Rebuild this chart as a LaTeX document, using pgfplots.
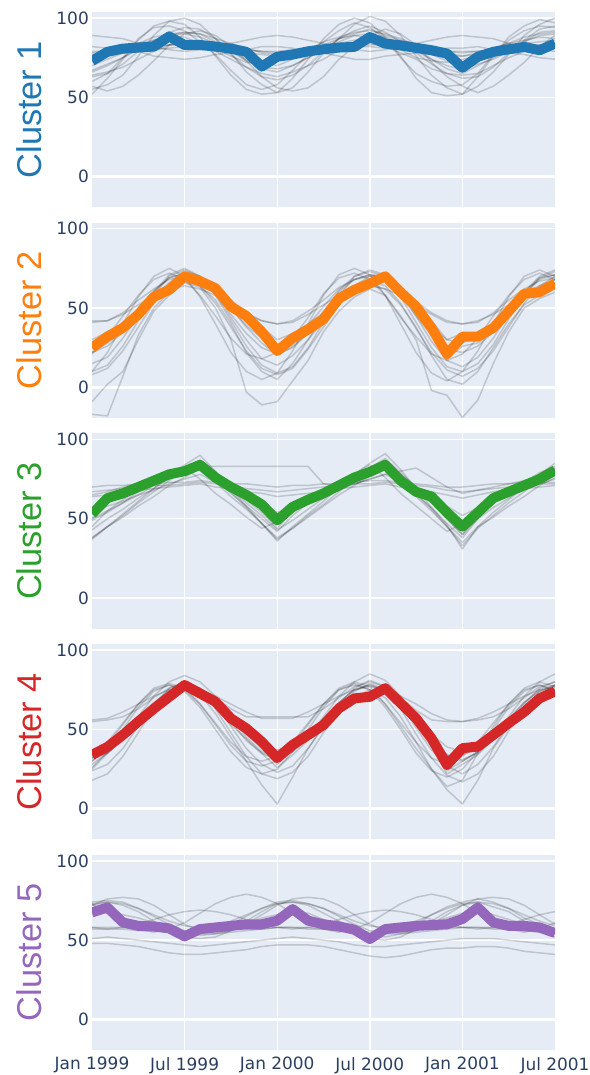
\documentclass[border=0pt]{standalone}
\usepackage{fontspec}
\usepackage{pgfplots}
\pgfplotsset{compat=1.18}
\newfontfamily\tickfont{DejaVu Sans}
\newfontfamily\titlefont{Liberation Sans}
\definecolor{bgc}{HTML}{E5ECF6}
\definecolor{tickc}{HTML}{2A3F5F}
\definecolor{c1}{HTML}{1F77B4}
\definecolor{c2}{HTML}{FF7F0E}
\definecolor{c3}{HTML}{2CA02C}
\definecolor{c4}{HTML}{D62728}
\definecolor{c5}{HTML}{9467BD}
\newcommand\gline[1]{%
  \gdef\gcoords{}%
  \foreach[count=\i from 0] \v in {#1}{\xdef\gcoords{\gcoords(\i,\v)}}%
  \edef\gtmp{\noexpand\addplot[gl] coordinates {\gcoords};}%
  \gtmp}
\newcommand\mline[2]{%
  \gdef\gcoords{}%
  \foreach[count=\i from 0] \v in {#2}{\xdef\gcoords{\gcoords(\i,\v)}}%
  \edef\gtmp{\noexpand\addplot[ml, color=#1] coordinates {\gcoords};}%
  \gtmp}
\pgfplotsset{
  panel/.style={
    width=463bp, height=195.3bp, scale only axis,
    xmin=0, xmax=30, ymin=-19.3, ymax=103.8,
    axis background/.style={fill=bgc},
    axis line style={draw=none},
    tick style={draw=none},
    xtick={6,12,18,24}, xticklabels={},
    ytick={50,100}, extra y ticks={0},
    extra y tick style={grid=major, major grid style={white, line width=2.8bp}},
    grid=major, major grid style={white, line width=1.4bp},
    /pgf/number format/assume math mode=true,
    yticklabel style={font=\tickfont\fontsize{17}{17}\selectfont, text=tickc, anchor=east, inner sep=0pt, xshift=-3bp},
    xticklabel style={font=\tickfont\fontsize{17}{17}\selectfont, text=tickc, anchor=north, inner sep=0pt, yshift=-7bp},
    ylabel style={at={(axis description cs:-0.1086,0.5)}, anchor=base, rotate=0, font=\titlefont\fontsize{34.5}{34.5}\selectfont},
    anchor=north west,
  },
  gl/.style={black, opacity=0.17, line width=1.5bp, line join=round},
  ml/.style={line width=10bp, line join=round},
}
\begin{document}
\begin{tikzpicture}
\path[use as bounding box] (0,0) rectangle (590bp,-1075bp);
% ---------------- Cluster 1
\begin{axis}[panel, at={(92bp,-12bp)}, ylabel={Cluster 1}, ylabel style={text=c1}]
\gline{55,58,64,76,89,98,100,96,87,78,66,58,53,56,66,78,87,96,101,98,89,76,64,56,52,57,66,77,89,96,100}
\gline{60,65,75,87,94,95,92,85,77,67,58,55,58,67,77,85,92,97,94,87,75,65,60,57,58,65,77,86,92,95,94}
\gline{63,65,71,79,85,91,94,93,87,77,69,63,61,64,70,79,87,92,95,91,85,78,71,65,62,63,69,78,86,93,95}
\gline{67,71,75,81,86,89,91,90,85,79,73,69,68,70,75,80,87,90,93,89,86,81,74,70,67,71,74,79,85,91,92}
\gline{76,77,78,79,80,81,82,82,81,79,78,77,76,77,78,79,81,82,82,81,80,79,77,76,76,77,78,80,81,82,82}
\gline{79,79,80,81,82,83,83,82,82,81,80,79,79,80,80,81,82,82,83,83,82,81,80,79,79,79,80,81,82,83,83}
\gline{82,81,80,79,76,75,74,75,77,78,80,82,82,81,79,78,76,74,74,76,77,78,80,81,81,82,80,78,77,75,74}
\gline{64,66,69,74,79,83,84,83,79,74,69,65,63,66,70,74,80,83,85,82,78,74,68,65,64,65,70,75,79,82,84}
\gline{77,78,81,84,88,90,91,90,87,84,81,78,77,78,80,85,88,91,92,90,87,83,80,78,76,78,81,84,88,90,91}
\gline{57,54,57,64,73,83,90,92,89,82,73,63,56,54,56,63,74,82,89,93,90,83,72,63,57,53,57,64,72,82,89}
\gline{89,88,87,84,82,80,79,80,81,84,86,88,89,88,86,84,82,80,79,80,82,84,86,88,89,88,87,84,81,80,79}
\gline{74,76,79,84,86,88,88,84,81,76,72,71,73,77,80,83,87,89,87,85,80,75,73,72,74,76,81,84,86,88,87}
\gline{52,62,74,86,95,98,96,88,76,64,55,52,53,62,74,87,96,100,97,88,76,62,53,51,52,63,76,88,95,99,97}
\gline{70,74,78,82,85,87,86,84,82,80,77,72,70,74,78,81,84,86,87,85,82,80,77,73,69,74,78,81,84,85,86}
\gline{66,70,75,80,85,89,90,88,84,79,74,68,66,70,75,80,85,89,90,88,84,79,74,68,65,70,75,80,85,89,90}
\gline{78,79,80,81,82,83,84,83,82,81,80,79,78,79,80,81,82,83,84,83,82,81,80,79,78,79,80,81,82,83,84}
\mline{c1}{73,78.7,80.7,81.4,82,88.4,83,83,82,80.7,78.7,69.4,75.6,77,79,80.3,81.4,81.8,88,83.9,82.8,81.2,79.7,77.6,68.7,75.6,78.7,80.3,81.8,79.7,83.9}
\end{axis}
% ---------------- Cluster 2
\begin{axis}[panel, at={(92bp,-222.7bp)}, ylabel={Cluster 2}, ylabel style={text=c2}]
\gline{22,26,35,47,60,69,72,68,59,46,34,25,21,25,34,48,60,68,71,69,58,45,33,24,22,26,35,47,59,68,71}
\gline{15,19,31,45,60,71,75,70,59,44,30,18,14,20,30,46,61,70,74,71,60,45,29,17,13,19,31,46,60,70,74}
\gline{28,31,39,50,61,69,72,69,61,50,39,31,27,30,39,51,62,68,71,70,60,49,38,30,28,32,40,50,60,69,71}
\gline{41,42,47,55,62,68,70,68,62,55,47,42,40,42,48,55,63,68,70,68,62,54,47,42,40,41,47,55,62,67,69}
\gline{10,14,26,42,58,70,74,70,58,42,26,14,9,13,25,41,57,70,73,70,57,41,25,13,10,15,27,43,58,69,73}
\gline{10,22,40,57,70,75,70,57,40,22,10,5,9,23,40,58,71,75,71,58,40,22,9,4,10,23,40,57,70,74,70}
\gline{21,32,45,58,68,72,68,58,45,31,21,18,22,31,44,59,69,72,68,58,44,32,21,17,21,31,45,58,68,72,68}
\gline{8,12,23,38,53,64,68,64,53,38,23,12,8,12,24,38,52,64,67,64,53,37,22,11,7,12,23,38,53,64,68}
\gline{42,42,46,52,58,62,64,62,58,52,46,42,40,41,46,52,58,62,64,62,58,52,46,41,40,42,46,52,58,62,64}
\gline{-17,-18,7,33,50,60,67,64,55,40,22,10,5,15,30,42,52,60,65,62,52,38,20,5,2,10,25,40,52,58,62}
\gline{-9,2,10,30,48,58,66,63,50,30,-3,-11,-9,4,17,35,48,57,62,58,45,30,-2,-5,-19,-8,15,35,50,56,60}
\gline{26,31,38,48,58,65,72,68,60,50,42,33,24,30,37,46,57,63,68,70,60,50,38,24,30,31,37,47,58,62,68}
\gline{22,28,36,46,57,66,73,70,62,50,38,28,20,26,34,44,56,64,70,71,62,48,34,18,26,28,36,48,60,64,70}
\gline{30,35,40,49,58,64,69,66,60,50,44,38,30,34,40,47,57,62,66,68,60,52,42,30,34,34,40,50,58,62,66}
\mline{c2}{25,32,37.5,46,57,61.5,70,67,62.5,51,45,35,23,31,36.5,43,56,61.5,65.5,70,60,51,37.5,21,32,32,37.5,48,59,60,65.5}
\end{axis}
% ---------------- Cluster 3
\begin{axis}[panel, at={(92bp,-433.4bp)}, ylabel={Cluster 3}, ylabel style={text=c3}]
\gline{43,50,56,63,69,76,81,87,78,69,60,52,43,49,56,63,70,76,82,88,79,70,60,50,40,50,57,63,70,76,82}
\gline{37,45,52,60,67,74,81,87,77,67,57,47,37,44,52,59,67,75,81,87,77,66,56,45,33,44,52,60,67,75,81}
\gline{49,54,60,65,71,76,80,85,78,71,63,56,48,54,60,65,70,76,81,85,78,70,63,55,46,54,60,66,71,76,80}
\gline{38,45,53,61,69,77,84,90,80,69,58,47,36,45,53,61,70,78,85,91,81,69,57,46,31,45,54,62,70,78,85}
\gline{67,68,69,70,71,71,72,73,72,71,69,68,67,68,69,70,71,72,72,73,72,71,70,68,67,68,69,70,71,72,72}
\gline{64,65,66,68,69,70,71,72,70,69,67,66,64,65,66,67,69,70,71,72,70,69,67,65,63,65,67,68,69,70,71}
\gline{70,71,71,72,72,73,73,74,73,72,72,71,70,71,71,72,72,73,74,74,73,72,71,70,70,71,72,72,73,73,73}
\gline{38,45,51,58,64,71,76,82,73,64,56,47,38,44,51,58,65,71,77,82,73,64,55,45,35,45,51,58,64,71,76}
\gline{54,58,61,65,68,72,75,78,73,68,64,59,54,57,61,65,68,72,75,78,73,68,63,58,52,57,61,65,68,72,75}
\gline{65,67,70,72,75,78,80,83,83,83,83,83,83,83,83,72,70,72,75,78,80,82,76,70,66,68,70,72,74,76,78}
\gline{50,55,60,67,73,78,82,75,66,59,51,44,48,55,62,67,72,78,84,76,66,58,50,42,47,56,61,66,73,79,83}
\gline{50,60,65,70,75,79,82,86,77,69,62,54,44,55,62,67,72,77,81,86,76,67,60,50,40,52,62,67,72,77,82}
\gline{45,55,62,68,74,78,81,84,75,66,58,50,42,52,60,66,71,76,80,83,74,65,57,47,38,50,60,66,72,76,81}
\gline{55,62,66,70,74,77,79,82,76,70,64,57,50,58,63,67,71,75,78,82,74,67,62,54,47,56,63,67,71,75,79}
\mline{c3}{53,63,66,70,74,78,80,84,76,70,65,59,49,57.5,62,66,71,76,79.5,84,74,67,64,54,45,54,63,67,71,75,80.5}
\end{axis}
% ---------------- Cluster 4
\begin{axis}[panel, at={(92bp,-644.1bp)}, ylabel={Cluster 4}, ylabel style={text=c4}]
\gline{32,35,44,55,66,75,78,75,66,55,43,35,31,36,44,55,67,75,78,74,66,54,43,34,31,35,44,56,67,75,78}
\gline{24,28,38,52,66,76,80,76,66,52,38,28,23,27,38,52,66,76,81,77,66,51,37,27,22,28,39,53,66,76,80}
\gline{37,40,47,57,67,74,77,74,67,57,47,40,37,40,48,57,67,75,78,75,66,56,47,39,36,40,47,57,67,74,77}
\gline{26,36,50,64,74,78,74,64,50,36,26,22,25,36,50,64,75,79,75,64,50,35,24,20,25,36,50,64,74,78,74}
\gline{33,42,54,66,75,78,75,66,54,42,33,30,33,42,54,66,75,78,75,66,54,42,32,28,33,42,54,66,75,78,75}
\gline{56,57,61,66,71,75,76,75,71,66,61,57,57,57,61,66,71,75,77,75,71,66,60,56,55,57,61,66,71,75,76}
\gline{55,56,58,63,70,76,79,76,70,63,58,58,58,58,58,63,70,77,80,77,70,62,56,55,55,56,58,63,70,77,80}
\gline{18,22,33,48,63,74,78,74,63,48,33,22,19,23,33,48,63,74,79,75,63,47,32,21,17,22,33,49,63,74,78}
\gline{25,35,45,55,65,73,78,72,60,45,30,15,3,20,38,52,62,70,75,70,58,42,25,12,3,18,38,52,62,72,78}
\gline{30,40,53,66,76,79,76,66,53,40,30,27,30,40,53,66,76,80,77,66,52,38,25,14,18,35,52,66,76,80,77}
\gline{32,36,45,58,71,80,84,80,71,58,45,36,32,36,45,58,71,80,85,81,71,58,44,34,30,36,45,58,71,80,85}
\gline{30,37,46,56,65,72,79,73,66,56,47,38,28,38,46,54,64,70,73,77,67,56,42,24,30,36,46,55,63,70,75}
\gline{35,41,48,57,65,72,77,72,65,56,48,40,30,38,46,54,63,69,72,75,66,55,42,25,34,38,47,56,63,70,74}
\gline{28,35,44,54,63,71,77,72,64,53,44,35,26,34,43,53,63,70,74,77,67,54,39,22,28,34,44,54,63,70,75}
\mline{c4}{34,39,46.5,55,63,70.5,78,72.7,67.5,57,50.7,42.3,32,40.3,46.5,52.8,63.3,69.6,70.6,76,66.5,57,44.4,27.7,38.2,39.2,46.5,54,61,69.6,74}
\end{axis}
% ---------------- Cluster 5
\begin{axis}[panel, at={(92bp,-854.8bp)}, ylabel={Cluster 5}, ylabel style={text=c5},
  xticklabels={Jul 1999,Jan 2000,Jul 2000,Jan 2001},
  extra x ticks={0,30}, extra x tick labels={Jan 1999,Jul 2001}, extra x tick style={grid=none}]
\gline{74,75,74,70,65,60,56,55,57,60,65,70,74,75,73,70,65,60,56,55,56,60,66,71,74,76,74,70,64,60,57}
\gline{72,74,72,68,62,56,52,51,52,56,62,68,73,74,72,67,62,56,51,50,52,57,62,68,72,74,71,68,62,56,52}
\gline{57,57,57,56,56,56,56,56,57,57,57,57,58,58,57,57,56,56,55,55,56,57,57,58,58,58,57,57,56,56,56}
\gline{58,58,58,57,56,55,54,54,54,55,56,57,58,58,58,57,56,55,54,54,54,55,56,57,58,58,58,57,56,55,54}
\gline{48,48,47,46,44,42,41,41,42,43,44,46,47,47,47,46,44,42,40,39,40,42,44,45,45,46,46,45,43,42,41}
\gline{51,52,51,50,49,48,47,46,47,48,49,50,51,52,51,50,49,47,46,46,47,48,49,50,51,51,51,50,49,48,47}
\gline{73,67,61,57,55,57,61,67,73,77,79,77,73,67,61,57,55,57,61,67,73,77,79,77,73,67,61,57,55,57,61}
\gline{67,68,66,64,61,56,53,53,54,56,60,64,66,68,67,63,60,57,53,52,54,56,61,64,67,68,66,63,60,57,54}
\gline{73,74,73,70,66,62,59,58,59,62,66,70,73,74,73,70,66,62,59,58,59,62,66,70,73,74,73,70,66,62,59}
\gline{58,57,58,60,63,66,68,69,68,66,63,60,58,57,58,60,63,66,68,69,68,66,63,60,58,57,58,60,63,66,68}
\gline{72,76,77,76,72,66,60,56,55,56,60,66,72,76,77,76,72,66,60,56,55,56,60,66,72,76,77,76,72,66,60}
\gline{66,69,63,60,59,58,55,58,59,60,61,62,63,67,63,61,59,57,53,57,59,60,60,61,63,68,63,60,59,58,56}
\mline{c5}{67.5,70.6,61.2,59,58.7,57.4,52.4,57,58,59,60,60,62.3,69.6,62.3,60,58.7,56.6,50.7,57,58,59,59.5,60,63.3,70.6,61.2,59,59,58,54.5}
\end{axis}
\end{tikzpicture}
\end{document}
